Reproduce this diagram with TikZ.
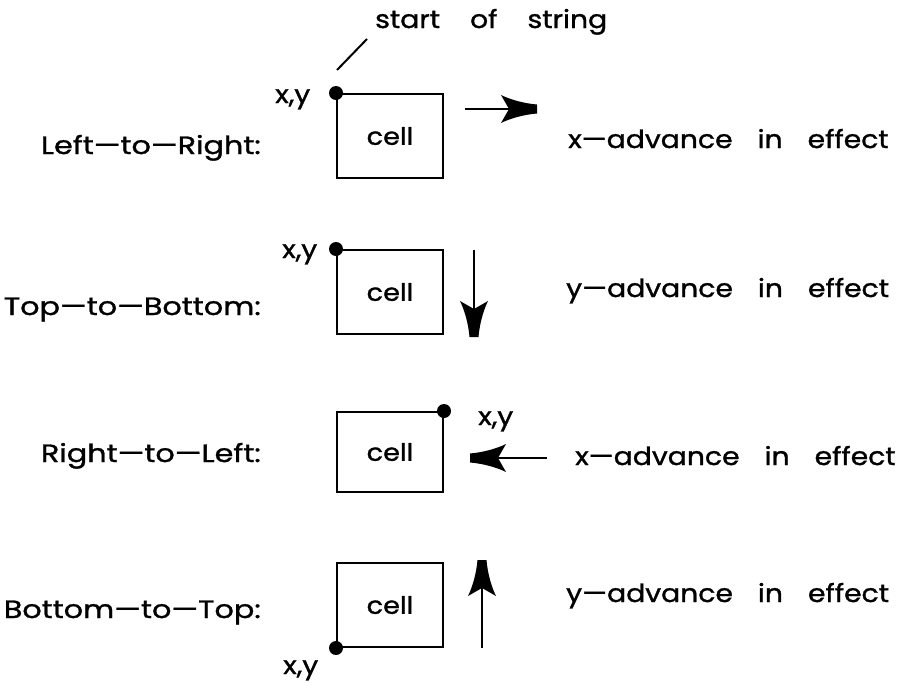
\documentclass[tikz,border=0pt]{standalone}
\usepackage{fontspec}
\setmainfont[FakeStretch=1.13, FakeBold=1.2]{Poppins}
\newfontfamily\lblfont[FakeStretch=1.21, FakeBold=1.2]{Poppins}
\newcommand{\wsp}{\hspace{25pt}}
\newcommand{\hsp}{\hspace{30pt}}
\begin{document}
\begin{tikzpicture}[x=1pt,y=-1pt,
  txt/.style={inner sep=0pt, font=\fontsize{25}{30}\selectfont},
  lbl/.style={inner sep=0pt, font=\lblfont\fontsize{25}{30}\selectfont},
  cellbox/.style={draw, line width=2pt, minimum width=106pt, minimum height=84pt, inner sep=0pt, font=\fontsize{24}{30}\selectfont},
  ln/.style={line width=2pt},
  lead/.style={line width=2pt},
  dot/.style={circle, fill, inner sep=0pt, minimum size=14pt},
  arrhead/.pic={\fill (0,-4.5) .. controls (-12,-5.5) and (-26,-9) .. (-36,-14) -- (-28,0) -- (-36,14) .. controls (-26,9) and (-12,5.5) .. (0,4.5) -- cycle;}
]
\useasboundingbox[fill=white] (0,0) rectangle (911,683);

% header
\node[txt, anchor=base west] (start) at (375,28) {start\hsp of\hsp string};
\coordinate (s0) at (337,70);
\coordinate (s1) at (367,39);
\draw[lead] (s0) -- (s1);

% row 1
\node[lbl, anchor=base east] (l1) at (261,154) {Left—to—Right:};
\node[cellbox] (b1) at (390,136) {cell};
\node[dot] (d1) at (b1.north west) {};
\node[txt, anchor=base west] (xy1) at (275,103) {x,y};
\coordinate (a1s) at (465,109);
\coordinate (a1e) at (537,109);
\draw[ln] (a1s) -- (a1e);
\pic at (a1e) {arrhead};
\node[txt, anchor=base west] (r1) at (568,148) {x—advance\wsp in\wsp effect};

% row 2
\node[lbl, anchor=base east] (l2) at (261,315) {Top—to—Bottom:};
\node[cellbox] (b2) at (390,292) {cell};
\node[dot] (d2) at (b2.north west) {};
\node[txt, anchor=base west] (xy2) at (282,258) {x,y};
\coordinate (a2s) at (474,250);
\coordinate (a2e) at (474,337);
\draw[ln] (a2s) -- (a2e);
\pic[rotate=-90] at (a2e) {arrhead};
\node[txt, anchor=base west] (r2) at (566,297) {y—advance\wsp in\wsp effect};

% row 3
\node[lbl, anchor=base east] (l3) at (261,462) {Right—to—Left:};
\node[cellbox, minimum height=80pt] (b3) at (390,452) {cell};
\node[dot] (d3) at (b3.north east) {};
\node[txt, anchor=base west] (xy3) at (478,425) {x,y};
\coordinate (a3s) at (547,458);
\coordinate (a3e) at (470,458);
\draw[ln] (a3s) -- (a3e);
\pic[rotate=180] at (a3e) {arrhead};
\node[txt, anchor=base west] (r3) at (575,465) {x—advance\wsp in\wsp effect};

% row 4
\node[lbl, anchor=base east] (l4) at (261,618) {Bottom—to—Top:};
\node[cellbox] (b4) at (390,605) {cell};
\node[dot] (d4) at (b4.south west) {};
\node[txt, anchor=base west] (xy4) at (283,674) {x,y};
\coordinate (a4s) at (482,648);
\coordinate (a4e) at (482,560);
\draw[ln] (a4s) -- (a4e);
\pic[rotate=90] at (a4e) {arrhead};
\node[txt, anchor=base west] (r4) at (566,602) {y—advance\wsp in\wsp effect};
\end{tikzpicture}
\end{document}
